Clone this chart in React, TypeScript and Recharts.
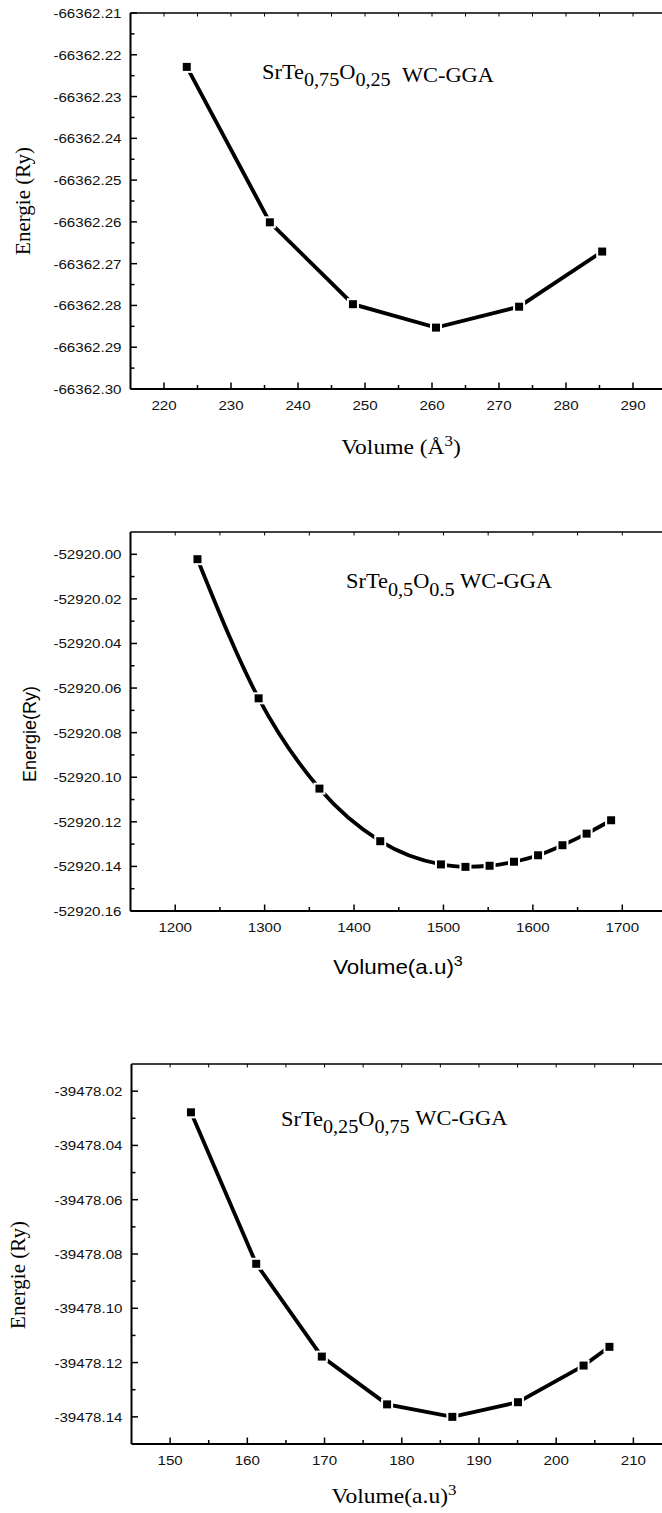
import React from 'react';
import { LineChart, Line, XAxis, YAxis, Label } from 'recharts';

const SX = 1.12;
const SANS = '"Liberation Sans", Arial, sans-serif';
const SERIF = '"Liberation Serif", "Times New Roman", serif';
const TICK_FS = 13.5;
const SVG_W = 662;

// ---------- Chart 1 : SrTe0,75O0,25 ----------
const vol1 = [223.4, 235.8, 248.2, 260.6, 273.0, 285.4];
const energy1 = [-66362.2229, -66362.2601, -66362.2797, -66362.2853, -66362.2803, -66362.2671];
const xMajor1 = [220, 230, 240, 250, 260, 270, 280, 290];
const xMinor1 = [225, 235, 245, 255, 265, 275, 285];
const yMajor1 = [-66362.21, -66362.22, -66362.23, -66362.24, -66362.25, -66362.26, -66362.27, -66362.28, -66362.29, -66362.3];
const yMinor1 = [-66362.215, -66362.225, -66362.235, -66362.245, -66362.255, -66362.265, -66362.275, -66362.285, -66362.295];

// ---------- Chart 2 : SrTe0,5O0.5 ----------
const vol2 = [1224.9, 1293.3, 1361.3, 1429.3, 1497.2, 1524.6, 1551.6, 1578.9, 1605.8, 1633.1, 1660.1, 1687.5];
const energy2 = [-52920.0022, -52920.0646, -52920.1051, -52920.1287, -52920.1391, -52920.1402, -52920.1397, -52920.1379, -52920.135, -52920.1305, -52920.1253, -52920.1193];
const xMajor2 = [1200, 1300, 1400, 1500, 1600, 1700];
const xMinor2 = [1250, 1350, 1450, 1550, 1650];
const yMajor2 = [-52920.16, -52920.14, -52920.12, -52920.1, -52920.08, -52920.06, -52920.04, -52920.02, -52920.0];
const yMinor2 = [-52920.15, -52920.13, -52920.11, -52920.09, -52920.07, -52920.05, -52920.03, -52920.01];

// ---------- Chart 3 : SrTe0,25O0,75 ----------
const vol3 = [152.7, 161.15, 169.65, 178.1, 186.55, 195.05, 203.55, 206.9];
const energy3 = [-39478.0278, -39478.0836, -39478.1178, -39478.1354, -39478.14, -39478.1346, -39478.1211, -39478.1142];
const xMajor3 = [150, 160, 170, 180, 190, 200, 210];
const xMinor3 = [155, 165, 175, 185, 195, 205];
const yMajor3 = [-39478.14, -39478.12, -39478.1, -39478.08, -39478.06, -39478.04, -39478.02];
const yMinor3 = [-39478.13, -39478.11, -39478.09, -39478.07, -39478.05, -39478.03];

const near = (list: number[], v: number) => list.some((m) => Math.abs(m - v) < 1e-7);
const sorted = (a: number[], b: number[]) => [...a, ...b].sort((p, q) => p - q);

const makeXTick = (major: number[]) => (props: any) => {
  const { x, y, payload } = props;
  const v = payload.value;
  const isMajor = near(major, v);
  return (
    <g>
      <line x1={x} y1={y} x2={x} y2={y - (isMajor ? 6.5 : 4)} stroke="#000" strokeWidth={1.5} />
      {isMajor && (
        <text
          transform={`translate(${x} ${y + 21}) scale(${SX} 1)`}
          textAnchor="middle"
          fontFamily={SANS}
          fontSize={TICK_FS}
          fill="#111"
        >
          {String(v)}
        </text>
      )}
    </g>
  );
};

const makeTopTick = () => (props: any) => {
  const { x, y } = props;
  return <line x1={x} y1={y} x2={x} y2={y + 3.5} stroke="#000" strokeWidth={1} />;
};

const makeYTick = (major: number[]) => (props: any) => {
  const { x, y, payload } = props;
  const v = payload.value;
  const isMajor = near(major, v);
  return (
    <g>
      <line x1={x} y1={y} x2={x + (isMajor ? 6.5 : 4)} y2={y} stroke="#000" strokeWidth={1.5} />
      {isMajor && (
        <text
          transform={`translate(${x - 9} ${y + 5}) scale(${SX} 1)`}
          textAnchor="end"
          fontFamily={SANS}
          fontSize={TICK_FS}
          fill="#111"
        >
          {v.toFixed(2)}
        </text>
      )}
    </g>
  );
};

const squareDot = (props: any) => {
  const { cx, cy, index } = props;
  if (cx == null || cy == null) return <g key={`n-${index}`} />;
  return (
    <rect
      key={`sq-${index}`}
      x={cx - 5}
      y={cy - 5}
      width={10}
      height={10}
      fill="#000"
      stroke="#fff"
      strokeWidth={2}
    />
  );
};

const Formula = ({ x, y, a, b, subDy, wcDy, gap }: any) => (
  <text transform={`translate(${x} ${y}) scale(${SX} 1)`} fontFamily={SERIF} fontSize={20} fill="#000">
    <tspan>SrTe</tspan>
    <tspan dy={subDy} fontSize={18}>{a}</tspan>
    <tspan dy={-subDy}>O</tspan>
    <tspan dy={subDy} fontSize={18}>{b}</tspan>
    <tspan dy={wcDy} dx={gap}>WC-GGA</tspan>
  </text>
);

const VolumeTitle = ({ cx, y, family, size, text, tail }: any) => (
  <text transform={`translate(${cx} ${y}) scale(${SX} 1)`} textAnchor="middle" fontFamily={family} fontSize={size} fill="#000">
    <tspan>{text}</tspan>
    <tspan dy={-8} fontSize={size * 0.72}>3</tspan>
    {tail ? <tspan dy={8}>{tail}</tspan> : null}
  </text>
);

const YTitle = ({ x, cy, family, size, text }: any) => (
  <text transform={`translate(${x} ${cy}) rotate(-90)`} textAnchor="middle" fontFamily={family} fontSize={size} fill="#000">
    {text}
  </text>
);

const data1 = vol1.map((v, i) => ({ v, e: energy1[i] }));
const data2 = vol2.map((v, i) => ({ v, e: energy2[i] }));
const data3 = vol3.map((v, i) => ({ v, e: energy3[i] }));

const axisCommon = {
  interval: 0 as const,
  tickSize: 0,
  tickMargin: 0,
  tickLine: false,
};

interface PanelProps {
  top: number;
  height: number;
  margin: { top: number; right: number; bottom: number; left: number };
  data: { v: number; e: number }[];
  xDomain: [number, number];
  xMajor: number[];
  xMinor: number[];
  yDomain: [number, number];
  yMajor: number[];
  yMinor: number[];
  curve: 'linear' | 'monotone';
  xTitle: React.ReactNode;
  yTitle: React.ReactNode;
  formula: React.ReactNode;
}

function Panel(p: PanelProps) {
  const xt = sorted(p.xMajor, p.xMinor);
  const plotTop = p.margin.top + 1;
  const plotBottom = p.height - p.margin.bottom - 1;
  return (
    <div style={{ position: 'absolute', left: 0, top: p.top, width: 662, height: p.height, overflow: 'hidden' }}>
      <LineChart width={SVG_W} height={p.height} data={p.data} margin={p.margin}>
        <XAxis
          {...axisCommon}
          xAxisId="b"
          dataKey="v"
          type="number"
          domain={p.xDomain}
          ticks={xt}
          height={1}
          axisLine={{ stroke: '#000', strokeWidth: 2 }}
          tick={makeXTick(p.xMajor)}
        >
          <Label content={() => p.xTitle} />
        </XAxis>
        <XAxis
          {...axisCommon}
          xAxisId="t"
          orientation="top"
          dataKey="v"
          type="number"
          domain={p.xDomain}
          ticks={xt}
          height={1}
          axisLine={{ stroke: '#000', strokeWidth: 1.5 }}
          tick={makeTopTick()}
        >
          <Label content={() => p.formula} />
        </XAxis>
        <YAxis
          {...axisCommon}
          yAxisId="y"
          orientation="left"
          type="number"
          domain={p.yDomain}
          ticks={sorted(p.yMajor, p.yMinor)}
          width={1}
          axisLine={{ stroke: '#000', strokeWidth: 2 }}
          tick={makeYTick(p.yMajor)}
        >
          <Label content={() => p.yTitle} />
        </YAxis>
        <Line
          xAxisId="b"
          yAxisId="y"
          dataKey="e"
          type={p.curve}
          stroke="#000"
          strokeWidth={3.8}
          dot={squareDot}
          activeDot={false}
          isAnimationActive={false}
        />
      </LineChart>
      {/* the reference frame is cut at the right edge: no right border */}
      <div
        style={{
          position: 'absolute',
          left: 650,
          top: plotTop + 2,
          width: 12,
          height: plotBottom - plotTop - 4,
          background: '#fff',
        }}
      />
    </div>
  );
}

export default function App() {
  return (
    <div style={{ position: 'absolute', left: 0, top: 0, width: 662, height: 1513, overflow: 'hidden', background: '#fff' }}>
      <Panel
        top={0}
        height={480}
        margin={{ top: 12, right: SVG_W - 666.5, bottom: 90, left: 129.5 }}
        data={data1}
        xDomain={[215, 295]}
        xMajor={xMajor1}
        xMinor={xMinor1}
        yDomain={[-66362.3, -66362.21]}
        yMajor={yMajor1}
        yMinor={yMinor1}
        curve="linear"
        xTitle={<VolumeTitle cx={401} y={454} family={SERIF} size={21} text="Volume (Å" tail=")" />}
        yTitle={<YTitle x={30} cy={201} family={SERIF} size={21} text="Energie (Ry)" />}
        formula={<Formula x={262} y={79} a="0,75" b="0,25" subDy={7} wcDy={-4} gap={10} />}
      />
      <Panel
        top={480}
        height={520}
        margin={{ top: 51, right: SVG_W - 667, bottom: 88, left: 129.5 }}
        data={data2}
        xDomain={[1150, 1750]}
        xMajor={xMajor2}
        xMinor={xMinor2}
        yDomain={[-52920.16, -52919.99]}
        yMajor={yMajor2}
        yMinor={yMinor2}
        curve="monotone"
        xTitle={<VolumeTitle cx={398} y={494} family={SANS} size={20} text="Volume(a.u)" />}
        yTitle={<YTitle x={36} cy={254} family={SANS} size={18} text="Energie(Ry)" />}
        formula={<Formula x={346} y={108} a="0,5" b="0.5" subDy={8} wcDy={-8} gap={5} />}
      />
      <Panel
        top={1000}
        height={513}
        margin={{ top: 63, right: SVG_W - 672, bottom: 68, left: 130.5 }}
        data={data3}
        xDomain={[145, 215]}
        xMajor={xMajor3}
        xMinor={xMinor3}
        yDomain={[-39478.15, -39478.01]}
        yMajor={yMajor3}
        yMinor={yMinor3}
        curve="linear"
        xTitle={<VolumeTitle cx={394} y={503} family={SERIF} size={21} text="Volume(a.u)" />}
        yTitle={<YTitle x={25} cy={275} family={SERIF} size={21} text="Energie (Ry)" />}
        formula={<Formula x={281} y={126} a="0,25" b="0,75" subDy={7} wcDy={-8} gap={5} />}
      />
    </div>
  );
}
